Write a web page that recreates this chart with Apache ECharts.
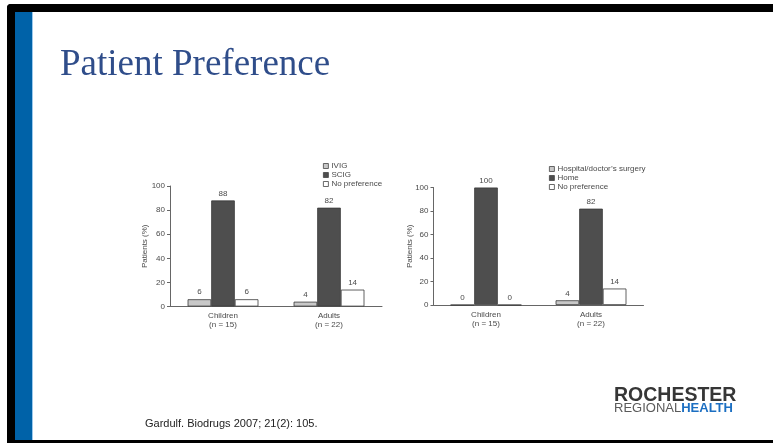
<!DOCTYPE html>
<html>
<head>
<meta charset="utf-8">
<title>Patient Preference</title>
<script src="https://cdn.jsdelivr.net/npm/echarts@6/dist/echarts.min.js"></script>
<style>
  html, body { margin: 0; padding: 0; background: #ffffff; }
  #slide { width: 773px; height: 443px; }
</style>
</head>
<body>
<div id="slide"></div>
<script>
// Category axis labels shared by both panels
const groups = ['Children\n(n = 15)', 'Adults\n(n = 22)'];

// Left panel: preferred product (% of patients)
const productNames = ['IVIG', 'SCIG', 'No preference'];
const ivigValues = [6, 4];
const scigValues = [88, 82];
const noPrefProductValues = [6, 14];

// Right panel: preferred place of treatment (% of patients)
const placeNames = ['Hospital/doctor\u2019s surgery', 'Home', 'No preference'];
const hospitalValues = [0, 4];
const homeValues = [100, 82];
const noPrefPlaceValues = [0, 14];

// Percentage axis
const yMin = 0, yMax = 100, yStep = 20;

const FONT = 'Liberation Sans, Arial, sans-serif';
const textGray = '#4a4a4a';
const axisGray = '#666666';
const barEdge = '#3a3a3a';
const fills = ['#c8c8c8', '#4e4e4e', '#ffffff'];

function valueAxis(gridIndex, gap) {
  return {
    type: 'value', gridIndex, min: yMin, max: yMax, interval: yStep,
    name: 'Patients (%)', nameLocation: 'middle', nameGap: gap, nameMoveOverlap: false,
    nameTextStyle: { fontFamily: FONT, fontSize: 8, color: textGray },
    axisLine: { show: true, lineStyle: { color: axisGray, width: 1 } },
    axisTick: { show: true, length: 3, lineStyle: { color: axisGray } },
    axisLabel: { fontFamily: FONT, fontSize: 8, color: textGray, margin: 5 },
    splitLine: { show: false }
  };
}

function categoryAxis(gridIndex) {
  return {
    type: 'category', gridIndex, data: groups,
    axisLine: { lineStyle: { color: axisGray, width: 1 } },
    axisTick: { show: false },
    axisLabel: { fontFamily: FONT, fontSize: 8, color: textGray, lineHeight: 9, margin: 5 }
  };
}

function barSeries(name, values, idx, panel) {
  return {
    type: 'bar', name, data: values,
    xAxisIndex: panel, yAxisIndex: panel,
    barWidth: 23.6, barGap: '0%',
    itemStyle: { color: fills[idx], borderColor: barEdge, borderWidth: 0.8 },
    label: { show: true, position: 'top', distance: 3, fontFamily: FONT, fontSize: 8, color: textGray },
    emphasis: { disabled: true },
    animation: false
  };
}

function legendBlock(names, left, top) {
  return {
    data: names, orient: 'vertical', left, top, padding: 0,
    itemWidth: 5, itemHeight: 5, itemGap: 1, icon: 'rect',
    itemStyle: { borderColor: '#444', borderWidth: 0.8 },
    textStyle: { fontFamily: FONT, fontSize: 8, color: textGray, lineHeight: 8, padding: [0, 0, 0, -2] },
    selectedMode: false
  };
}

const chart = echarts.init(document.getElementById('slide'), null, { renderer: 'canvas' });

chart.setOption({
  backgroundColor: '#ffffff',
  animation: false,
  title: [
    {
      text: 'Patient Preference', left: 55, top: 42,
      textStyle: { fontFamily: 'Liberation Serif, Times New Roman, serif', fontSize: 37, fontWeight: 'normal', color: '#2f4d8a' }
    },
    {
      text: 'Gardulf. Biodrugs 2007; 21(2): 105.', left: 140, top: 413,
      textStyle: { fontFamily: FONT, fontSize: 11, fontWeight: 'normal', color: '#222222' }
    }
  ],
  legend: [
    legendBlock(productNames, 323, 162),
    legendBlock(placeNames, 549, 165)
  ],
  grid: [
    { left: 170, top: 186, width: 212, height: 120.5, containLabel: false },
    { left: 433.5, top: 187.5, width: 210, height: 117.5, containLabel: false }
  ],
  xAxis: [categoryAxis(0), categoryAxis(1)],
  yAxis: [valueAxis(0, 21), valueAxis(1, 19.5)],
  series: [
    barSeries(productNames[0], ivigValues, 0, 0),
    barSeries(productNames[1], scigValues, 1, 0),
    barSeries(productNames[2], noPrefProductValues, 2, 0),
    barSeries(placeNames[0], hospitalValues, 0, 1),
    barSeries(placeNames[1], homeValues, 1, 1),
    barSeries(placeNames[2], noPrefPlaceValues, 2, 1)
  ],
  graphic: [
    // slide frame: top band, left band, blue accent stripe, bottom band
    { type: 'rect', shape: { x: 7, y: 4, width: 766, height: 8, r: [4, 0, 0, 0] }, style: { fill: '#000000' }, silent: true },
    { type: 'rect', shape: { x: 7, y: 4, width: 8, height: 439, r: [4, 0, 0, 0] }, style: { fill: '#000000' }, silent: true },
    { type: 'rect', shape: { x: 15, y: 12, width: 17, height: 428 }, style: { fill: '#0062a8' }, silent: true },
    { type: 'rect', shape: { x: 32, y: 12, width: 1, height: 428 }, style: { fill: '#9cc9ec' }, silent: true },
    { type: 'rect', shape: { x: 7, y: 440, width: 766, height: 3 }, style: { fill: '#000000' }, silent: true },
    // organisation wordmark
    {
      type: 'text', left: 614, top: 386, silent: true,
      style: { text: 'ROCHESTER', fontFamily: FONT, fontSize: 19.5, fontWeight: 'bold', fill: '#363636' }
    },
    {
      type: 'text', left: 614, top: 402, silent: true,
      style: {
        text: '{a|REGIONAL}{b|HEALTH}',
        rich: {
          a: { fontFamily: FONT, fontSize: 13, fontWeight: 'normal', fill: '#5a5a5a' },
          b: { fontFamily: FONT, fontSize: 13, fontWeight: 'bold', fill: '#1c6fc2' }
        }
      }
    }
  ]
});
</script>
</body>
</html>
